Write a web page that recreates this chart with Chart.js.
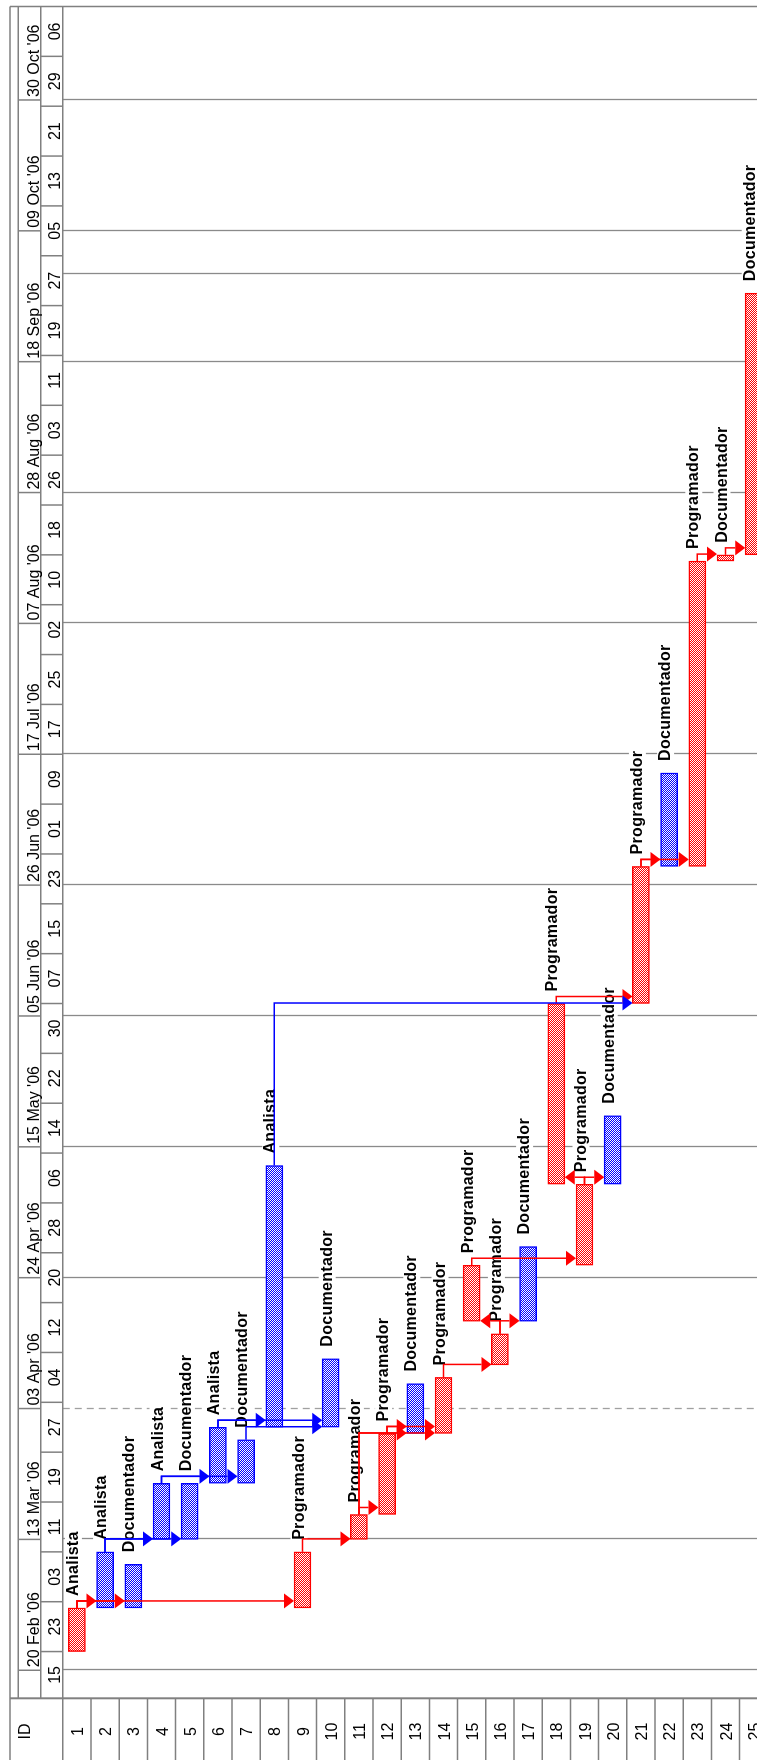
<!DOCTYPE html>
<html>
<head>
<meta charset="utf-8">
<title>Cronograma del proyecto</title>
<script src="https://cdn.jsdelivr.net/npm/chart.js@4.4.1/dist/chart.umd.min.js"></script>
<style>
  html, body { margin: 0; padding: 0; background: #ffffff; }
  body { width: 757px; height: 1760px; overflow: hidden; position: relative; }
  /* the Gantt is laid out landscape and turned a quarter turn counter-clockwise */
  #frame {
    position: absolute; left: 0; top: 0;
    width: 1760px; height: 757px; overflow: hidden;
    transform-origin: 0 0;
    transform: translate(0, 1760px) rotate(-90deg);
    background: #ffffff;
  }
  canvas { display: block; }
</style>
</head>
<body>
<div id="frame"><canvas id="gantt" width="1760" height="780"></canvas></div>
<script>
// ---- project data ---------------------------------------------------------
const taskIds = ['1','2','3','4','5','6','7','8','9','10','11','12','13',
                 '14','15','16','17','18','19','20','21','22','23','24','25'];

const resources = ['Analista','Analista','Documentador','Analista','Documentador',
  'Analista','Documentador','Analista','Programador','Documentador','Programador',
  'Programador','Documentador','Programador','Programador','Programador',
  'Documentador','Programador','Programador','Documentador','Programador',
  'Documentador','Programador','Documentador','Documentador'];

const startDates = ['2006-02-23','2006-03-02','2006-03-02','2006-03-13','2006-03-13',
  '2006-03-22','2006-03-22','2006-03-31','2006-03-02','2006-03-31','2006-03-13',
  '2006-03-17','2006-03-30','2006-03-30','2006-04-17','2006-04-10','2006-04-17',
  '2006-05-09','2006-04-26','2006-05-09','2006-06-07','2006-06-29','2006-06-29',
  '2006-08-17','2006-08-18'];

// finish = first day after the last working day of the task
const finishDates = ['2006-03-02','2006-03-11','2006-03-09','2006-03-22','2006-03-22',
  '2006-03-31','2006-03-29','2006-05-12','2006-03-11','2006-04-11','2006-03-17',
  '2006-03-30','2006-04-07','2006-04-08','2006-04-26','2006-04-15','2006-04-29',
  '2006-06-07','2006-05-09','2006-05-20','2006-06-29','2006-07-14','2006-08-17',
  '2006-08-18','2006-09-29'];

const critical = [true,false,false,false,false,false,false,false,true,false,true,
  true,false,true,true,true,false,true,true,false,true,false,true,true,true];

// finish-to-start links: [predecessor ID, successor ID]
const links = [[1,2],[1,3],[1,9],[2,4],[2,5],[4,6],[4,7],[6,8],[6,10],[7,10],
  [9,11],[11,12],[11,13],[11,14],[12,13],[12,14],[14,16],[16,15],[16,17],[15,19],
  [19,18],[19,20],[18,21],[8,21],[21,22],[21,23],[23,24],[24,25]];

// timescale
const axisStart = '2006-02-15';
const axisEnd = '2006-11-14';
const minorStep = 8;     // days per lower-tier cell
const minorTickLabels = ['15','23','03','11','19','27','04','12','20','28','06',
  '14','22','30','07','15','23','01','09','17','25','02','10','18','26','03','11',
  '19','27','05','13','21','29','06'];
const majorFirst = '2006-02-20';
const majorStep = 21;    // days per upper-tier cell
const majorTickLabels = ["20 Feb '06","13 Mar '06","03 Apr '06","24 Apr '06",
  "15 May '06","05 Jun '06","26 Jun '06","17 Jul '06","07 Aug '06","28 Aug '06",
  "18 Sep '06","09 Oct '06","30 Oct '06"];
const extraGridDates = ['2006-10-02'];
const dashedGridDates = ['2006-04-03'];

// ---- helpers --------------------------------------------------------------
const DAY = 86400000;
const origin = Date.UTC(2006, 1, 15);
function dayNum(s) {
  const [y, m, d] = s.split('-').map(Number);
  return (Date.UTC(y, m - 1, d) - origin) / DAY;
}
const startT = startDates.map(dayNum);
const finishT = finishDates.map(dayNum);
const minorT = minorTickLabels.map((_, i) => dayNum(axisStart) + i * minorStep);
const majorT = majorTickLabels.map((_, i) => dayNum(majorFirst) + i * majorStep);
const dashedT = dashedGridDates.map(dayNum);

const RED = '#ff0000';
const BLUE = '#0000ff';
const GRID = '#8a8a8a';
const HEAD = '#808080';
const FONT = '"Liberation Sans", Arial, sans-serif';
const BAR = 17;

function hatch(color) {
  const c = document.createElement('canvas');
  c.width = 2; c.height = 2;
  const g = c.getContext('2d');
  g.fillStyle = '#ffffff'; g.fillRect(0, 0, 2, 2);
  g.fillStyle = color; g.fillRect(0, 0, 1, 1); g.fillRect(1, 1, 1, 1);
  return g.createPattern(c, 'repeat');
}
const redFill = hatch(RED);
const blueFill = hatch(BLUE);

// ---- drawing layers -------------------------------------------------------
const ganttLayers = {
  id: 'ganttLayers',
  beforeDatasetsDraw(chart) {
    const { ctx, chartArea: a, scales: { x, y } } = chart;
    ctx.save();
    ctx.strokeStyle = GRID;
    ctx.lineWidth = 1.3;
    const lines = majorT.concat(extraGridDates.map(dayNum));
    lines.forEach(t => {
      const px = Math.round(x.getPixelForValue(t)) + 0.5;
      ctx.setLineDash(dashedT.includes(t) ? [7, 5] : []);
      ctx.strokeStyle = dashedT.includes(t) ? '#a0a0a0' : GRID;
      ctx.beginPath(); ctx.moveTo(px, a.top); ctx.lineTo(px, 757); ctx.stroke();
    });
    ctx.setLineDash([]);
    // resource labels on white so that grid lines stop behind them
    ctx.font = 'bold 16px ' + FONT;
    ctx.letterSpacing = '0.3px';
    ctx.textBaseline = 'alphabetic';
    resources.forEach((r, i) => {
      const lx = x.getPixelForValue(finishT[i]) + 12;
      const ly = y.getPixelForValue(i) + 1;
      const w = ctx.measureText(r).width;
      ctx.fillStyle = '#ffffff';
      ctx.fillRect(lx - 1, ly - 13, w + 2, 17);
      ctx.fillStyle = '#000000';
      ctx.fillText(r, lx, ly);
    });
    ctx.restore();
  },
  afterDatasetsDraw(chart) {
    const { ctx, scales: { x, y } } = chart;
    ctx.save();
    ctx.lineWidth = 1.5;
    links.forEach(([p, s]) => {
      const pi = p - 1, si = s - 1;
      const col = critical[pi] ? RED : BLUE;
      const xEnd = x.getPixelForValue(finishT[pi]);
      const xStart = x.getPixelForValue(startT[si]);
      const yP = y.getPixelForValue(pi);
      const yS = y.getPixelForValue(si);
      const turn = Math.max(xStart + 0.5, xEnd + 7);
      const dir = yS > yP ? 1 : -1;
      const tip = yS - dir * BAR / 2;
      const base = tip - dir * 10;
      ctx.strokeStyle = col; ctx.fillStyle = col;
      ctx.beginPath();
      ctx.moveTo(xEnd, yP); ctx.lineTo(turn, yP); ctx.lineTo(turn, base);
      ctx.stroke();
      ctx.beginPath();
      ctx.moveTo(turn - 7.5, base); ctx.lineTo(turn + 7.5, base); ctx.lineTo(turn, tip);
      ctx.closePath(); ctx.fill();
    });
    ctx.restore();
  },
  afterDraw(chart) {
    const { ctx, chartArea: a, scales: { x, y } } = chart;
    const right = a.right;
    const rowH = (a.bottom - a.top) / taskIds.length;
    ctx.save();
    // timescale: two tiers
    ctx.fillStyle = '#ffffff';
    ctx.fillRect(0, 0, 1760, a.top);
    ctx.strokeStyle = HEAD;
    ctx.lineWidth = 1.5;
    const hl = (x1, y1, x2, y2) => { ctx.beginPath(); ctx.moveTo(x1, y1); ctx.lineTo(x2, y2); ctx.stroke(); };
    const tierTop = 18.3, tierMid = 40.7, tierBot = a.top;
    hl(0, 10, right, 10);
    hl(a.left, tierTop, right, tierTop);
    hl(a.left, tierMid, right, tierMid);
    hl(0, tierBot, right, tierBot);
    hl(right, 10, right, 757);
    ctx.fillStyle = '#000000';
    ctx.font = '16px ' + FONT;
    ctx.textBaseline = 'alphabetic';
    majorT.forEach((t, i) => {
      const px = x.getPixelForValue(t);
      hl(px, tierTop, px, tierMid);
      ctx.textAlign = 'left';
      ctx.fillText(majorTickLabels[i], px + 3, tierMid - 1.5);
    });
    minorT.forEach((t, i) => {
      const px = x.getPixelForValue(t);
      const nx = Math.min(x.getPixelForValue(t + minorStep), right);
      if (t > 0) hl(px, tierMid, px, tierBot);
      ctx.textAlign = 'center';
      ctx.fillText(minorTickLabels[i], (Math.max(px, a.left) + nx) / 2, tierBot - 3);
    });
    // ID column
    ctx.lineWidth = 2;
    hl(a.left, 10, a.left, 757);
    ctx.lineWidth = 1.5;
    ctx.textAlign = 'center';
    ctx.fillText('ID', 28.5, 30);
    taskIds.forEach((id, i) => {
      const cy = y.getPixelForValue(i);
      hl(0, cy + rowH / 2, a.left, cy + rowH / 2);
      ctx.fillText(id, 28.5, cy + 6);
    });
    ctx.restore();
  }
};

new Chart(document.getElementById('gantt'), {
  type: 'bar',
  data: {
    labels: taskIds,
    datasets: [{
      data: startT.map((s, i) => [s, finishT[i]]),
      backgroundColor: critical.map(c => c ? redFill : blueFill),
      borderColor: critical.map(c => c ? RED : BLUE),
      borderWidth: 1.5,
      borderSkipped: false,
      barThickness: BAR
    }]
  },
  options: {
    indexAxis: 'y',
    responsive: false,
    animation: false,
    devicePixelRatio: 1,
    layout: { padding: { left: 61.7, right: 6.5, top: 62.8, bottom: 12.2 } },
    plugins: { legend: { display: false }, tooltip: { enabled: false } },
    scales: {
      x: { type: 'linear', min: 0.5, max: dayNum(axisEnd), display: false },
      y: { type: 'category', display: false }
    }
  },
  plugins: [ganttLayers]
});
</script>
</body>
</html>
